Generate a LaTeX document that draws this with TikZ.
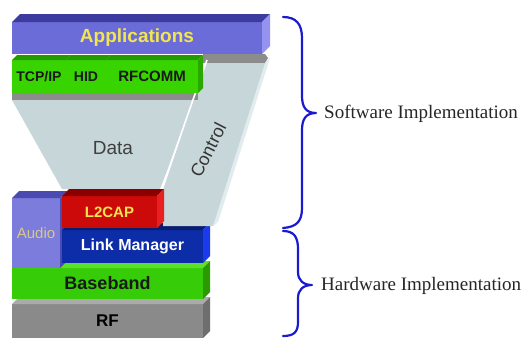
\documentclass[tikz,border=0pt]{standalone}
\usepackage{fontspec}
\setmainfont{Liberation Serif}
\setsansfont{Liberation Sans}
\usetikzlibrary{calc}
\definecolor{appF}{HTML}{6C6CD8}
\definecolor{appT}{HTML}{3C3CA0}
\definecolor{appS}{HTML}{9494F0}
\definecolor{grF}{HTML}{38D400}
\definecolor{grT}{HTML}{249A00}
\definecolor{grS}{HTML}{2AA800}
\definecolor{stripG}{HTML}{8C8C8C}
\definecolor{lightF}{HTML}{C6D6D9}
\definecolor{lightS}{HTML}{E2ECEE}
\definecolor{redF}{HTML}{CC0A0A}
\definecolor{redT}{HTML}{8A0000}
\definecolor{redS}{HTML}{E82020}
\definecolor{lmF}{HTML}{0C2CA8}
\definecolor{lmT}{HTML}{081C70}
\definecolor{lmS}{HTML}{1A3AEE}
\definecolor{audF}{HTML}{7C7CDC}
\definecolor{audT}{HTML}{4A4AB0}
\definecolor{bbF}{HTML}{36CC08}
\definecolor{bbT}{HTML}{5CE02A}
\definecolor{bbS}{HTML}{2A9A00}
\definecolor{rfF}{HTML}{8A8A8A}
\definecolor{rfT}{HTML}{ABABAB}
\definecolor{rfS}{HTML}{6E6E6E}
\definecolor{braceC}{HTML}{1A1AD0}
\definecolor{txtY}{HTML}{F2E650}
\definecolor{audTxt}{HTML}{D8C888}
\newcommand\slabfaces[4]{%
  \fill[#3] (#1.north west) -- ++(#2,-#2) -- ($(#1.north east)+(#2,-#2)$) -- (#1.north east) -- cycle;
  \fill[#4] (#1.north east) -- ++(#2,-#2) -- ($(#1.south east)+(#2,-#2)$) -- (#1.south east) -- cycle;
}
\tikzset{
  blk/.style={draw=none, inner sep=0pt, outer sep=0pt, anchor=north west, font=\sffamily\bfseries},
  bracepath/.style={draw=braceC, line width=2.2pt, line cap=round, line join=round},
  sidetext/.style={anchor=west, inner sep=0pt, font=\fontsize{19}{19}\selectfont, text=black!85},
}
\begin{document}
\begin{tikzpicture}[x=1pt,y=-1pt]
\useasboundingbox (0,0) rectangle (526,338);
\fill[white] (0,0) rectangle (526,338);

% RF
\node[blk, fill=rfF, minimum width=191, minimum height=34, font=\sffamily\bfseries\fontsize{17}{17}\selectfont, text=black] (rf) at (12,304) {RF};
\slabfaces{rf}{7}{rfT}{rfS}
% Baseband
\node[blk, fill=bbF, minimum width=191, minimum height=31, font=\sffamily\bfseries\fontsize{18}{18}\selectfont, text=black!90] (bb) at (12,268) {Baseband};
\slabfaces{bb}{7}{bbT}{bbS}
% Audio
\node[blk, fill=audF, minimum width=48, minimum height=70, font=\sffamily\fontsize{15}{15}\selectfont, text=audTxt] (aud) at (12,198) {Audio};
\slabfaces{aud}{7}{audT}{audT}
% Link Manager
\node[blk, fill=lmF, minimum width=141, minimum height=33, font=\sffamily\bfseries\fontsize{16}{16}\selectfont, text=white] (lm) at (62,230) {Link Manager};
\slabfaces{lm}{7}{lmT}{lmS}

% Control band
\fill[stripG] (203,54) -- (265,54) -- (268,58) -- (265,63) -- (203,63) -- cycle;
\fill[lightS] (265,63) -- (270,58) -- (218,222) -- (213,226) -- cycle;
\fill[lightF] (206,63) -- (265,63) -- (213,226) -- (163,226) -- (163,190) -- cycle;
% Data funnel
\fill[stripG] (12,93) rectangle (198,100);
\fill[lightF] (12,100) -- (195,100) -- (160,189) -- (62,189) -- cycle;
\draw[white, line width=1.6pt] (207,60) -- (161,191);

\node[font=\sffamily\fontsize{19}{19}\selectfont, text=black!75, inner sep=0pt] (data) at (113,148) {Data};
\node[rotate=63, font=\sffamily\fontsize{18}{18}\selectfont, text=black!80, inner sep=0pt] (ctl) at (208,150) {Control};

% L2CAP
\node[blk, fill=redF, minimum width=95, minimum height=32, font=\sffamily\bfseries\fontsize{15}{15}\selectfont, text=txtY] (l2) at (62,196) {L2CAP};
\slabfaces{l2}{7}{redT}{redS}

% Protocol row
\node[blk, fill=grF, minimum width=54, minimum height=33, font=\sffamily\bfseries\fontsize{14}{14}\selectfont, text=black!90] (tcp) at (12,60) {TCP/IP};
\slabfaces{tcp}{5}{grT}{grS}
\node[blk, fill=grF, minimum width=40, minimum height=33, font=\sffamily\bfseries\fontsize{14}{14}\selectfont, text=black!90] (hid) at (66,60) {HID};
\slabfaces{hid}{5}{grT}{grS}
\node[blk, fill=grF, minimum width=92, minimum height=33, font=\sffamily\bfseries\fontsize{15}{15}\selectfont, text=black!90] (rfc) at (106,60) {RFCOMM};
\slabfaces{rfc}{5}{grT}{grS}

% Applications
\node[blk, fill=appF, minimum width=250, minimum height=32, font=\sffamily\bfseries\fontsize{19}{19}\selectfont, text=txtY] (app) at (12,22) {Applications};
\slabfaces{app}{8}{appT}{appS}

% Braces
\coordinate (swtop) at (283,17);
\coordinate (swtip) at (316,113);
\coordinate (swbot) at (283,228);
\draw[bracepath] (swtop) .. controls (296,17) and (302,24) .. (302,38) -- (302,96)
  .. controls (302,107) and (306,113) .. (swtip)
  .. controls (306,113) and (302,119) .. (302,130) -- (302,208)
  .. controls (302,222) and (296,227) .. (swbot);
\coordinate (hwtop) at (283,231);
\coordinate (hwtip) at (312,285);
\coordinate (hwbot) at (283,336);
\draw[bracepath] (hwtop) .. controls (294,231) and (298,237) .. (298,249) -- (298,272)
  .. controls (298,280) and (303,285) .. (hwtip)
  .. controls (303,285) and (298,290) .. (298,298) -- (298,322)
  .. controls (298,332) and (294,336) .. (hwbot);

\node[sidetext] (sw) at (324,114) {Software Implementation};
\node[sidetext] (hw) at (321,286) {Hardware Implementation};
\end{tikzpicture}
\end{document}
